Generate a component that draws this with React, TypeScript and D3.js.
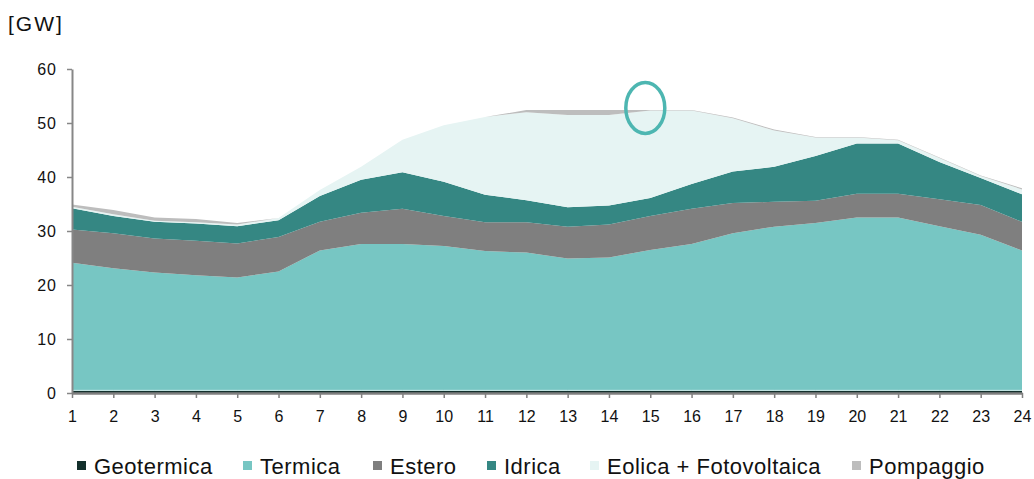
import React, { useEffect, useRef } from 'react';
import * as d3 from 'd3';

// hours of the day
const hours = [1, 2, 3, 4, 5, 6, 7, 8, 9, 10, 11, 12, 13, 14, 15, 16, 17, 18, 19, 20, 21, 22, 23, 24];

// GW per source
const geotermica = [0.4, 0.4, 0.4, 0.4, 0.4, 0.4, 0.4, 0.4, 0.4, 0.4, 0.4, 0.4, 0.4, 0.4, 0.4, 0.4, 0.4, 0.4, 0.4, 0.4, 0.4, 0.4, 0.4, 0.4];
const termica = [23.7, 22.7, 21.9, 21.4, 21.0, 22.1, 26.0, 27.2, 27.2, 26.8, 25.9, 25.6, 24.5, 24.7, 26.1, 27.2, 29.2, 30.4, 31.1, 32.1, 32.1, 30.5, 28.9, 26.0];
const estero = [6.2, 6.5, 6.3, 6.4, 6.3, 6.4, 5.3, 5.8, 6.5, 5.6, 5.3, 5.6, 5.9, 6.1, 6.3, 6.5, 5.6, 4.6, 4.1, 4.4, 4.4, 5.0, 5.5, 5.3];
const idrica = [3.9, 3.2, 3.1, 3.2, 3.2, 3.1, 4.8, 6.1, 6.8, 6.3, 5.1, 4.1, 3.6, 3.5, 3.3, 4.6, 5.8, 6.5, 8.3, 9.3, 9.3, 6.9, 5.0, 5.1];
const eolicaFoto = [0.3, 0.3, 0.2, 0.2, 0.3, 0.4, 1.1, 2.4, 6.0, 10.5, 14.4, 16.3, 17.1, 16.8, 16.2, 13.6, 9.9, 6.7, 3.4, 1.1, 0.6, 0.7, 0.4, 0.9];
const pompaggio = [0.4, 0.8, 0.6, 0.6, 0.3, 0.0, 0.0, 0.0, 0.0, 0.0, 0.0, 0.4, 0.9, 0.9, 0.1, 0.1, 0.1, 0.2, 0.1, 0.1, 0.1, 0.1, 0.1, 0.2];

const seriesNames = ['Geotermica', 'Termica', 'Estero', 'Idrica', 'Eolica + Fotovoltaica', 'Pompaggio'];
const seriesColors = ['#13302c', '#77c6c3', '#7f7f7f', '#358783', '#e6f4f3', '#bdbdbd'];
const yTicks = [0, 10, 20, 30, 40, 50, 60];

// highlighted point (hour, GW)
const markHour = 14.88;
const markValue = 52.8;

const legendX = [77, 243, 373, 487, 590, 852];

function App() {
  const ref = useRef<SVGSVGElement>(null);

  useEffect(() => {
    const width = 1034;
    const height = 479;
    const svg = d3.select(ref.current);
    svg.selectAll('*').remove();
    svg.attr('width', width).attr('height', height);

    const font = 'Arial, "Liberation Sans", sans-serif';

    const x = d3.scaleLinear().domain([1, 24]).range([72, 1022]);
    const y = d3.scaleLinear().domain([0, 60]).range([393, 69]);

    const all = [geotermica, termica, estero, idrica, eolicaFoto, pompaggio];
    const rows = hours.map((h, i) => {
      const r: any = { hour: h };
      seriesNames.forEach((name, k) => { r[name] = all[k][i]; });
      return r;
    });

    const stacked = d3.stack().keys(seriesNames)(rows);

    const area = d3.area<any>()
      .x(d => x(d.data.hour))
      .y0(d => y(d[0]))
      .y1(d => y(d[1]));

    svg.append('g')
      .selectAll('path')
      .data(stacked)
      .enter()
      .append('path')
      .attr('d', d => area(d as any))
      .attr('fill', (d, i) => seriesColors[i]);

    // thin light line on top of the geothermal band
    const geoTop = d3.line<any>()
      .x(d => x(d.data.hour))
      .y(d => y(d[1]) - 0.5);
    svg.append('path')
      .attr('d', geoTop(stacked[0] as any))
      .attr('fill', 'none')
      .attr('stroke', '#d8f0ee')
      .attr('stroke-width', 0.8);

    // y axis
    const yAxis = svg.append('g')
      .attr('transform', 'translate(72,0)')
      .call(d3.axisLeft(y).tickValues(yTicks).tickSize(5).tickSizeOuter(0).tickPadding(10));
    yAxis.select('.domain').attr('stroke', '#878787').attr('stroke-width', 2);
    yAxis.selectAll('.tick line').attr('stroke', '#878787').attr('stroke-width', 1.5);
    yAxis.selectAll('.tick text')
      .attr('font-family', font).attr('font-size', 16).attr('fill', '#111')
      .style('letter-spacing', '1px');

    // x axis
    const xAxis = svg.append('g')
      .attr('transform', 'translate(0,393)')
      .call(d3.axisBottom(x).tickValues(hours).tickFormat(d3.format('d')).tickSize(5).tickSizeOuter(0).tickPadding(13));
    xAxis.select('.domain').attr('stroke', '#7f7f7f').attr('stroke-width', 2.5);
    xAxis.selectAll('.tick line').attr('stroke', '#7f7f7f').attr('stroke-width', 1.5);
    xAxis.selectAll('.tick text')
      .attr('font-family', font).attr('font-size', 16).attr('fill', '#111');

    // unit label
    svg.append('text')
      .attr('x', 8).attr('y', 31)
      .attr('font-family', font).attr('font-size', 21)
      .style('letter-spacing', '2px')
      .attr('fill', '#111')
      .text('[GW]');

    // highlight ellipse
    svg.append('ellipse')
      .attr('cx', x(markHour)).attr('cy', y(markValue))
      .attr('rx', 19.5).attr('ry', 25.5)
      .attr('fill', 'none')
      .attr('stroke', '#4db6b1')
      .attr('stroke-width', 3.5);

    // legend
    const legend = svg.append('g');
    seriesNames.forEach((name, i) => {
      legend.append('rect')
        .attr('x', legendX[i]).attr('y', 461)
        .attr('width', 9).attr('height', 9)
        .attr('fill', seriesColors[i]);
      legend.append('text')
        .attr('x', legendX[i] + 17).attr('y', 474)
        .attr('font-family', font).attr('font-size', 22)
        .style('letter-spacing', '0.5px')
        .attr('fill', '#111')
        .text(name);
    });
  }, []);

  return (
    <svg ref={ref} style={{ position: 'absolute', left: 0, top: 0, display: 'block', background: '#fff' }} />
  );
}

export default App;
